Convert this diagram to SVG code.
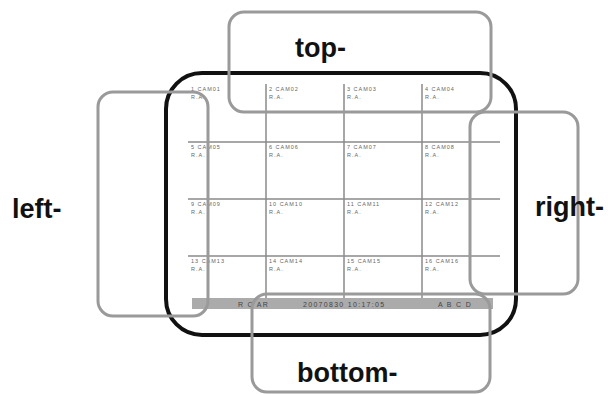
<svg xmlns="http://www.w3.org/2000/svg" width="608" height="394" viewBox="0 0 608 394">
<style>
.frame{fill:none;stroke:#111;stroke-width:4}
.box{fill:none;stroke:#9a9a9a;stroke-width:3}
.grid{stroke:#8a8a8a;stroke-width:1.5}
.cell{font-family:"Liberation Sans",Arial,sans-serif;font-size:5.5px;letter-spacing:1px;fill:#666}
.bar{font-family:"Liberation Sans",Arial,sans-serif;font-size:7px;letter-spacing:1.3px;fill:#444}
.lbl{font-family:"Liberation Sans",Arial,sans-serif;font-size:27px;font-weight:bold;fill:#111}
</style>
<g id="screen">
<rect class="frame" x="166" y="73" width="350" height="262" rx="36"/>
<g id="grid">
<line class="grid" x1="188" y1="142" x2="500" y2="142"/>
<line class="grid" x1="188" y1="199" x2="500" y2="199"/>
<line class="grid" x1="188" y1="256" x2="500" y2="256"/>
<line class="grid" x1="266" y1="84" x2="266" y2="298"/>
<line class="grid" x1="344" y1="84" x2="344" y2="298"/>
<line class="grid" x1="422" y1="84" x2="422" y2="298"/>
</g>
<g id="cells">
<text class="cell" x="191" y="91">1 CAM01</text><text class="cell" x="191" y="99">R.A.</text>
<text class="cell" x="269" y="91">2 CAM02</text><text class="cell" x="269" y="99">R.A.</text>
<text class="cell" x="347" y="91">3 CAM03</text><text class="cell" x="347" y="99">R.A.</text>
<text class="cell" x="425" y="91">4 CAM04</text><text class="cell" x="425" y="99">R.A.</text>
<text class="cell" x="191" y="149">5 CAM05</text><text class="cell" x="191" y="157">R.A.</text>
<text class="cell" x="269" y="149">6 CAM06</text><text class="cell" x="269" y="157">R.A.</text>
<text class="cell" x="347" y="149">7 CAM07</text><text class="cell" x="347" y="157">R.A.</text>
<text class="cell" x="425" y="149">8 CAM08</text><text class="cell" x="425" y="157">R.A.</text>
<text class="cell" x="191" y="206">9 CAM09</text><text class="cell" x="191" y="214">R.A.</text>
<text class="cell" x="269" y="206">10 CAM10</text><text class="cell" x="269" y="214">R.A.</text>
<text class="cell" x="347" y="206">11 CAM11</text><text class="cell" x="347" y="214">R.A.</text>
<text class="cell" x="425" y="206">12 CAM12</text><text class="cell" x="425" y="214">R.A.</text>
<text class="cell" x="191" y="263">13 CAM13</text><text class="cell" x="191" y="271">R.A.</text>
<text class="cell" x="269" y="263">14 CAM14</text><text class="cell" x="269" y="271">R.A.</text>
<text class="cell" x="347" y="263">15 CAM15</text><text class="cell" x="347" y="271">R.A.</text>
<text class="cell" x="425" y="263">16 CAM16</text><text class="cell" x="425" y="271">R.A.</text>
</g>
<g id="statusbar">
<rect x="192" y="298" width="301" height="11" fill="#ababab"/>
<text class="bar" x="238" y="306.5">R C AR</text>
<text class="bar" x="303" y="306.5">20070830 10:17:05</text>
<text class="bar" x="438" y="306.5">A B C D</text>
</g>
</g>
<g id="top">
<rect class="box" x="229" y="12" width="262" height="100" rx="15"/>
<text class="lbl" x="295" y="57">top-</text>
</g>
<g id="left">
<rect class="box" x="98" y="92" width="110" height="224" rx="15"/>
<text class="lbl" x="12" y="218">left-</text>
</g>
<g id="right">
<rect class="box" x="470" y="112" width="108" height="182" rx="15"/>
<text class="lbl" x="535" y="216">right-</text>
</g>
<g id="bottom">
<rect class="box" x="252" y="294" width="238" height="98" rx="15"/>
<text class="lbl" x="297" y="382">bottom-</text>
</g>
</svg>
